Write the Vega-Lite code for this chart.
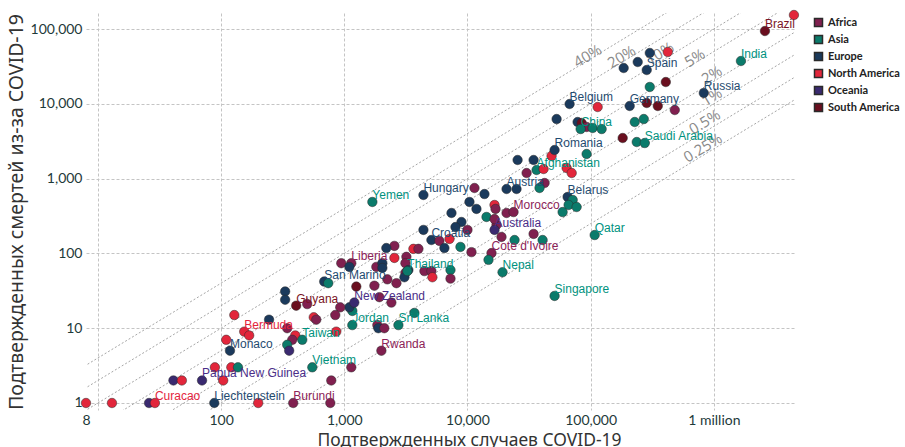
{
  "$schema": "https://vega.github.io/schema/vega-lite/v6.json",
  "autosize": {"type": "none"},
  "padding": {"left": 86, "top": 13, "right": 110, "bottom": 37},
  "width": 709,
  "height": 397,
  "background": "white",
  "config": {
    "view": {"stroke": null},
    "axis": {
      "domain": false, "ticks": false,
      "gridColor": "#c4c4c4", "gridDash": [3, 2], "gridWidth": 1,
      "labelFont": "Lato", "labelFontSize": 14, "labelColor": "#1e3a3a",
      "titleFont": "Noto Sans", "titleFontSize": 18, "titleFontWeight": "normal", "titleColor": "#333333"
    },
    "legend": {
      "symbolType": "square", "symbolSize": 64, "labelFont": "Lato", "labelFontWeight": "bold",
      "labelFontSize": 11, "labelColor": "#222222", "rowPadding": 2, "padding": 4, "offset": 14
    }
  },
  "datasets": {
    "pts": [
      {"continent": "North America", "cases": 8, "deaths": 1},
      {"continent": "North America", "cases": 13, "deaths": 1},
      {"continent": "Oceania", "cases": 26, "deaths": 1},
      {"continent": "North America", "cases": 29, "deaths": 1, "country": "Curacao"},
      {"continent": "Europe", "cases": 88, "deaths": 1, "country": "Liechtenstein"},
      {"continent": "North America", "cases": 200, "deaths": 1},
      {"continent": "Africa", "cases": 385, "deaths": 1, "country": "Burundi"},
      {"continent": "Africa", "cases": 770, "deaths": 1},
      {"continent": "Oceania", "cases": 41, "deaths": 2},
      {"continent": "North America", "cases": 48, "deaths": 2},
      {"continent": "Oceania", "cases": 70, "deaths": 2, "country": "Papua New Guinea"},
      {"continent": "North America", "cases": 104, "deaths": 2},
      {"continent": "North America", "cases": 89, "deaths": 3},
      {"continent": "North America", "cases": 121, "deaths": 3},
      {"continent": "Asia", "cases": 137, "deaths": 3},
      {"continent": "North America", "cases": 110, "deaths": 7},
      {"continent": "Europe", "cases": 118, "deaths": 5, "country": "Monaco"},
      {"continent": "North America", "cases": 128, "deaths": 15},
      {"continent": "North America", "cases": 154, "deaths": 9, "country": "Bermuda"},
      {"continent": "North America", "cases": 169, "deaths": 8},
      {"continent": "Europe", "cases": 245, "deaths": 13},
      {"continent": "Europe", "cases": 331, "deaths": 31},
      {"continent": "Europe", "cases": 331, "deaths": 24},
      {"continent": "South America", "cases": 407, "deaths": 20, "country": "Guyana"},
      {"continent": "Africa", "cases": 500, "deaths": 21},
      {"continent": "Africa", "cases": 344, "deaths": 10},
      {"continent": "North America", "cases": 400, "deaths": 8},
      {"continent": "Africa", "cases": 378, "deaths": 7},
      {"continent": "Asia", "cases": 456, "deaths": 7, "country": "Taiwan"},
      {"continent": "Asia", "cases": 344, "deaths": 6},
      {"continent": "Oceania", "cases": 357, "deaths": 5},
      {"continent": "North America", "cases": 565, "deaths": 14},
      {"continent": "Asia", "cases": 550, "deaths": 3, "country": "Vietnam"},
      {"continent": "Africa", "cases": 1140, "deaths": 3},
      {"continent": "Africa", "cases": 784, "deaths": 2},
      {"continent": "Africa", "cases": 2000, "deaths": 5, "country": "Rwanda"},
      {"continent": "Asia", "cases": 1162, "deaths": 11, "country": "Jordan"},
      {"continent": "Africa", "cases": 1855, "deaths": 11},
      {"continent": "Europe", "cases": 1890, "deaths": 10},
      {"continent": "Africa", "cases": 2113, "deaths": 10},
      {"continent": "Asia", "cases": 2750, "deaths": 11, "country": "Sri Lanka"},
      {"continent": "Asia", "cases": 3708, "deaths": 16},
      {"continent": "Asia", "cases": 1162, "deaths": 17},
      {"continent": "Europe", "cases": 1100, "deaths": 19},
      {"continent": "Oceania", "cases": 1206, "deaths": 22, "country": "New Zealand"},
      {"continent": "Africa", "cases": 927, "deaths": 19},
      {"continent": "Africa", "cases": 845, "deaths": 15},
      {"continent": "Africa", "cases": 592, "deaths": 13},
      {"continent": "North America", "cases": 861, "deaths": 9},
      {"continent": "Africa", "cases": 2411, "deaths": 22},
      {"continent": "Europe", "cases": 687, "deaths": 42, "country": "San Marino"},
      {"continent": "Asia", "cases": 741, "deaths": 40},
      {"continent": "Africa", "cases": 945, "deaths": 74},
      {"continent": "Africa", "cases": 1140, "deaths": 74, "country": "Liberia"},
      {"continent": "Europe", "cases": 1100, "deaths": 66},
      {"continent": "South America", "cases": 1252, "deaths": 36},
      {"continent": "Africa", "cases": 1755, "deaths": 37},
      {"continent": "Africa", "cases": 1926, "deaths": 26},
      {"continent": "Africa", "cases": 1820, "deaths": 66},
      {"continent": "Europe", "cases": 2037, "deaths": 74},
      {"continent": "Europe", "cases": 2037, "deaths": 64},
      {"continent": "North America", "cases": 2551, "deaths": 87},
      {"continent": "Africa", "cases": 2551, "deaths": 126},
      {"continent": "Europe", "cases": 2194, "deaths": 118},
      {"continent": "Africa", "cases": 3193, "deaths": 90},
      {"continent": "North America", "cases": 3640, "deaths": 115},
      {"continent": "Africa", "cases": 3999, "deaths": 115},
      {"continent": "Africa", "cases": 2236, "deaths": 45},
      {"continent": "Africa", "cases": 2650, "deaths": 40},
      {"continent": "Africa", "cases": 3134, "deaths": 74},
      {"continent": "Africa", "cases": 3134, "deaths": 55},
      {"continent": "Europe", "cases": 3313, "deaths": 60},
      {"continent": "Europe", "cases": 3077, "deaths": 48},
      {"continent": "Africa", "cases": 4470, "deaths": 58},
      {"continent": "Africa", "cases": 5094, "deaths": 58},
      {"continent": "North America", "cases": 5190, "deaths": 48},
      {"continent": "Asia", "cases": 7280, "deaths": 60},
      {"continent": "Africa", "cases": 7280, "deaths": 46},
      {"continent": "Asia", "cases": 3250, "deaths": 58, "country": "Thailand"},
      {"continent": "Asia", "cases": 1690, "deaths": 487, "country": "Yemen"},
      {"continent": "Europe", "cases": 4390, "deaths": 604, "country": "Hungary"},
      {"continent": "Africa", "cases": 11400, "deaths": 749},
      {"continent": "Europe", "cases": 13740, "deaths": 622},
      {"continent": "Europe", "cases": 10380, "deaths": 487},
      {"continent": "Europe", "cases": 11830, "deaths": 393},
      {"continent": "North America", "cases": 16580, "deaths": 444},
      {"continent": "Africa", "cases": 16890, "deaths": 393},
      {"continent": "Africa", "cases": 20760, "deaths": 347},
      {"continent": "Africa", "cases": 23660, "deaths": 357, "country": "Morocco"},
      {"continent": "Asia", "cases": 14270, "deaths": 307},
      {"continent": "Europe", "cases": 7416, "deaths": 347},
      {"continent": "Europe", "cases": 8937, "deaths": 263},
      {"continent": "Europe", "cases": 7990, "deaths": 225},
      {"continent": "Europe", "cases": 4390, "deaths": 206},
      {"continent": "Europe", "cases": 5094, "deaths": 151, "country": "Croatia"},
      {"continent": "Africa", "cases": 5916, "deaths": 147},
      {"continent": "North America", "cases": 7145, "deaths": 156},
      {"continent": "Africa", "cases": 10000, "deaths": 206},
      {"continent": "Europe", "cases": 6500, "deaths": 118},
      {"continent": "Asia", "cases": 8770, "deaths": 122},
      {"continent": "Africa", "cases": 10780, "deaths": 104},
      {"continent": "Africa", "cases": 17200, "deaths": 240},
      {"continent": "Oceania", "cases": 16580, "deaths": 206, "country": "Australia"},
      {"continent": "Africa", "cases": 18890, "deaths": 166},
      {"continent": "Africa", "cases": 34420, "deaths": 182},
      {"continent": "Africa", "cases": 15670, "deaths": 101, "country": "Cote d'Ivoire"},
      {"continent": "Asia", "cases": 14820, "deaths": 82},
      {"continent": "Asia", "cases": 19260, "deaths": 56, "country": "Nepal"},
      {"continent": "Asia", "cases": 24110, "deaths": 151},
      {"continent": "Asia", "cases": 40730, "deaths": 151},
      {"continent": "Africa", "cases": 16580, "deaths": 288},
      {"continent": "Europe", "cases": 25520, "deaths": 1774},
      {"continent": "Europe", "cases": 34420, "deaths": 1774},
      {"continent": "Africa", "cases": 30200, "deaths": 1188},
      {"continent": "Europe", "cases": 20760, "deaths": 726, "country": "Austria"},
      {"continent": "Europe", "cases": 25020, "deaths": 726},
      {"continent": "Africa", "cases": 42270, "deaths": 873},
      {"continent": "Asia", "cases": 38460, "deaths": 749},
      {"continent": "Asia", "cases": 36380, "deaths": 1303, "country": "Afghanistan"},
      {"continent": "North America", "cases": 41500, "deaths": 1344},
      {"continent": "North America", "cases": 48170, "deaths": 2006},
      {"continent": "Europe", "cases": 50950, "deaths": 2411, "country": "Romania"},
      {"continent": "North America", "cases": 63830, "deaths": 1387},
      {"continent": "North America", "cases": 70150, "deaths": 1188},
      {"continent": "Asia", "cases": 92760, "deaths": 2133},
      {"continent": "Europe", "cases": 65010, "deaths": 568, "country": "Belarus"},
      {"continent": "Asia", "cases": 71450, "deaths": 518},
      {"continent": "Asia", "cases": 66230, "deaths": 444},
      {"continent": "Asia", "cases": 76920, "deaths": 417},
      {"continent": "Asia", "cases": 59200, "deaths": 357},
      {"continent": "Asia", "cases": 107800, "deaths": 176, "country": "Qatar"},
      {"continent": "Asia", "cases": 50950, "deaths": 27, "country": "Singapore"},
      {"continent": "Europe", "cases": 67450, "deaths": 9940, "country": "Belgium"},
      {"continent": "North America", "cases": 114000, "deaths": 9060},
      {"continent": "Europe", "cases": 52920, "deaths": 6260},
      {"continent": "Europe", "cases": 78350, "deaths": 5710},
      {"continent": "South America", "cases": 84500, "deaths": 5540},
      {"continent": "Africa", "cases": 92760, "deaths": 4900},
      {"continent": "Asia", "cases": 82940, "deaths": 4600, "country": "China"},
      {"continent": "Asia", "cases": 103800, "deaths": 4750},
      {"continent": "Asia", "cases": 122800, "deaths": 4600},
      {"continent": "Europe", "cases": 207500, "deaths": 9350, "country": "Germany"},
      {"continent": "South America", "cases": 285300, "deaths": 10250},
      {"continent": "South America", "cases": 350700, "deaths": 9350},
      {"continent": "Africa", "cases": 482000, "deaths": 8260},
      {"continent": "Asia", "cases": 228000, "deaths": 5710},
      {"continent": "Asia", "cases": 270000, "deaths": 6260},
      {"continent": "South America", "cases": 182000, "deaths": 3490},
      {"continent": "Asia", "cases": 236700, "deaths": 3085},
      {"continent": "Asia", "cases": 275000, "deaths": 2990, "country": "Saudi Arabia"},
      {"continent": "Asia", "cases": 302000, "deaths": 16790},
      {"continent": "South America", "cases": 407600, "deaths": 19560},
      {"continent": "Europe", "cases": 302000, "deaths": 47800},
      {"continent": "North America", "cases": 422800, "deaths": 49300},
      {"continent": "Europe", "cases": 241000, "deaths": 36200},
      {"continent": "Europe", "cases": 185400, "deaths": 30100},
      {"continent": "Europe", "cases": 285300, "deaths": 28300, "country": "Spain"},
      {"continent": "Europe", "cases": 829000, "deaths": 13940, "country": "Russia"},
      {"continent": "Asia", "cases": 1660000, "deaths": 37350, "country": "India"},
      {"continent": "South America", "cases": 2600000, "deaths": 94000, "country": "Brazil"},
      {"continent": "North America", "cases": 4470000, "deaths": 153900}
    ],
    "rates": [
      {"rate": "40%", "cases": 1, "deaths": 0.4}, {"rate": "40%", "cases": 10000000, "deaths": 4000000},
      {"rate": "20%", "cases": 1, "deaths": 0.2}, {"rate": "20%", "cases": 10000000, "deaths": 2000000},
      {"rate": "10%", "cases": 1, "deaths": 0.1}, {"rate": "10%", "cases": 10000000, "deaths": 1000000},
      {"rate": "5%", "cases": 1, "deaths": 0.05}, {"rate": "5%", "cases": 10000000, "deaths": 500000},
      {"rate": "2%", "cases": 1, "deaths": 0.02}, {"rate": "2%", "cases": 10000000, "deaths": 200000},
      {"rate": "1%", "cases": 1, "deaths": 0.01}, {"rate": "1%", "cases": 10000000, "deaths": 100000},
      {"rate": "0.5%", "cases": 1, "deaths": 0.005}, {"rate": "0.5%", "cases": 10000000, "deaths": 50000},
      {"rate": "0.25%", "cases": 1, "deaths": 0.0025}, {"rate": "0.25%", "cases": 10000000, "deaths": 25000}
    ],
    "rateLabels": [
      {"rate": "40%", "cases": 94600, "deaths": 43500},
      {"rate": "20%", "cases": 178600, "deaths": 42300},
      {"rate": "10%", "cases": 364000, "deaths": 47000},
      {"rate": "5%", "cases": 701000, "deaths": 40900},
      {"rate": "2%", "cases": 964000, "deaths": 24300},
      {"rate": "1%", "cases": 964000, "deaths": 12300},
      {"rate": "0.5%", "cases": 845000, "deaths": 5700},
      {"rate": "0.25%", "cases": 815000, "deaths": 2570}
    ]
  },
  "encoding": {
    "x": {
      "field": "cases", "type": "quantitative",
      "scale": {"type": "log", "domain": [8, 4560000], "nice": false},
      "axis": {
        "values": [8, 10, 100, 1000, 10000, 100000, 1000000],
        "labelExpr": "datum.value == 10 ? '' : (datum.value >= 1000000 ? '1 million' : format(datum.value, ','))",
        "gridOpacity": {"condition": {"test": "datum.value == 8", "value": 0}, "value": 1},
        "labelFlush": false, "labelOverlap": false, "labelPadding": 3,
        "title": "Подтвержденных случаев COVID-19", "titleFontSize": 17.5, "titleX": 383, "titleY": 21, "titleBaseline": "top"
      }
    },
    "y": {
      "field": "deaths", "type": "quantitative",
      "scale": {"type": "log", "domain": [0.806, 163700], "nice": false},
      "axis": {
        "values": [1, 10, 100, 1000, 10000, 100000],
        "format": ",", "labelPadding": 4, "labelFlush": false, "labelOverlap": false,
        "title": "Подтвержденных смертей из-за COVID-19", "titleFontSize": 19.5, "titlePadding": 4
      }
    }
  },
  "layer": [
    {
      "data": {"name": "rates"},
      "mark": {"type": "line", "clip": true, "color": "#a6a6a6", "strokeDash": [2, 2], "strokeWidth": 1},
      "encoding": {"detail": {"field": "rate"}}
    },
    {
      "data": {"name": "rateLabels"},
      "mark": {"type": "text", "angle": -31, "font": "Open Sans", "fontSize": 15, "color": "#8a8a8a", "align": "center", "baseline": "middle"},
      "encoding": {"text": {"field": "rate"}}
    },
    {
      "data": {"name": "pts"},
      "mark": {"type": "circle", "size": 90, "opacity": 1, "stroke": "#2a2a2a", "strokeWidth": 0.5},
      "encoding": {
        "color": {
          "field": "continent", "type": "nominal",
          "scale": {"domain": ["Africa", "Asia", "Europe", "North America", "Oceania", "South America"],
                    "range": ["#80204f", "#0b7b6b", "#1b3a5c", "#e2263b", "#3a2a70", "#6a0f1f"]},
          "legend": {"title": null, "orient": "right"}
        }
      }
    },
    {
      "data": {"name": "pts"},
      "transform": [{"filter": "isValid(datum.country)"}],
      "mark": {"type": "text", "font": "Liberation Sans", "fontSize": 12, "align": "left", "baseline": "alphabetic", "dy": -3},
      "encoding": {
        "text": {"field": "country"},
        "color": {
          "field": "continent", "type": "nominal",
          "scale": {"domain": ["Africa", "Asia", "Europe", "North America", "Oceania", "South America"],
                    "range": ["#8c2358", "#00927e", "#1f4b70", "#e4243c", "#4a2d88", "#7a1425"]},
          "legend": null
        }
      }
    }
  ],
  "resolve": {"scale": {"color": "independent"}}
}
